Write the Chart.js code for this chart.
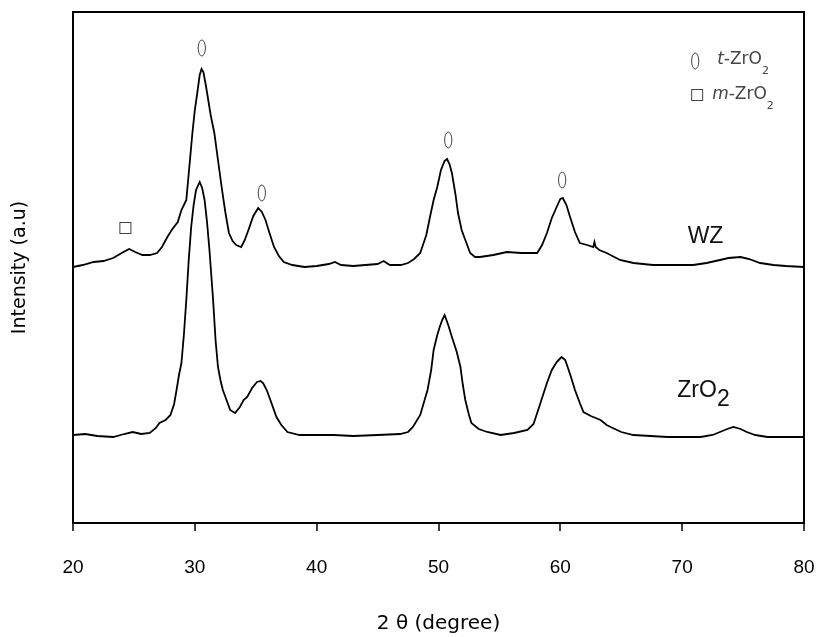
<!DOCTYPE html>
<html>
<head>
<meta charset="utf-8">
<script src="https://cdn.jsdelivr.net/npm/chart.js@4.4.1/dist/chart.umd.min.js"></script>
<style>
  html, body { margin: 0; padding: 0; background: #fff; }
  #wrap { width: 817px; height: 637px; position: relative; }
</style>
</head>
<body>
<div id="wrap"><canvas id="xrd"></canvas></div>
<script>
// -------------------- data (2 theta vs intensity, a.u.)
var xTicks = [20, 30, 40, 50, 60, 70, 80];

var wzX = [20.0,20.8,21.7,22.5,23.3,24.0,24.6,25.1,25.7,26.3,26.9,27.3,27.7,28.1,28.6,28.9,29.3,29.6,29.8,30.0,
  30.2,30.4,30.55,30.7,30.9,31.1,31.3,31.6,31.9,32.2,32.5,32.8,33.1,33.4,33.8,34.1,34.4,34.8,35.2,35.5,
  35.8,36.1,36.5,36.9,37.3,38.0,39.0,40.0,41.0,41.5,42.0,43.0,44.0,45.0,45.5,46.0,46.9,47.5,48.0,48.5,
  49.0,49.3,49.6,49.9,50.2,50.5,50.7,50.9,51.1,51.4,51.6,51.9,52.2,52.6,53.0,53.4,54.5,55.6,56.8,58.1,
  58.5,58.9,59.3,59.7,60.0,60.2,60.5,60.8,61.2,61.6,62.2,62.7,62.8,62.9,63.2,63.8,64.9,66.0,67.6,69.0,
  70.9,72.0,73.1,73.8,74.8,75.5,76.4,77.5,78.5,80.0];
var wzY = [256,258,261,262,265,270,274,271,268,268,270,276,285,293,301,313,323,363,390,413,
  430,448,454,451,438,423,408,390,363,336,311,290,282,278,276,283,293,307,315,311,
  303,291,276,267,261,258,256,257,259,261,258,257,258,259,262,258,258,260,264,270,
  288,306,323,336,353,362,364,359,350,328,310,293,283,270,266,266,268,271,270,270,
  278,290,305,316,324,325,318,306,291,280,278,276,281,276,273,270,263,260,258,258,
  258,260,263,265,266,264,260,258,257,256];

var zrX = [20.0,21.0,22.0,23.3,24.2,24.9,25.6,26.3,26.8,27.1,27.6,28.0,28.3,28.5,28.7,28.9,29.1,29.3,29.5,29.7,
  29.9,30.1,30.4,30.6,30.8,31.0,31.2,31.5,31.7,31.9,32.1,32.3,32.6,32.9,33.3,33.7,34.0,34.3,34.7,35.1,
  35.4,35.6,35.9,36.2,36.7,37.1,37.6,38.6,40.0,41.4,43.0,45.0,46.85,47.5,47.9,48.5,49.1,49.4,49.6,49.9,
  50.1,50.3,50.5,50.8,51.1,51.5,51.8,52.0,52.2,52.5,52.7,53.3,54.0,55.1,56.2,57.3,57.8,58.1,58.5,58.9,
  59.3,59.7,60.1,60.4,60.6,60.9,61.2,61.6,61.9,62.5,63.3,63.8,64.3,65.0,66.0,68.8,71.5,72.5,73.1,73.7,
  74.2,74.8,75.3,76.0,77.0,78.5,80.0];
var zrY = [88,89,87,86,89,91,89,90,95,100,103,108,119,133,148,160,188,223,263,296,
  318,333,341,335,323,301,273,223,183,156,143,133,123,113,110,116,123,126,135,141,
  142,140,133,123,106,98,91,88,88,88,87,88,89,91,96,108,133,153,173,188,
  196,203,208,198,186,171,156,138,123,108,100,94,91,88,90,93,99,110,125,140,
  153,161,166,163,156,145,133,120,111,107,103,98,95,91,88,86,86,88,91,94,
  96,94,91,88,86,86,86];

// peak markers (data units)
var tPeaks = [[30.57, 475], [35.5, 330], [50.8, 383], [60.15, 343]];
var mPeaks = [[24.3, 295]];
// key entries: symbol x, symbol y, text x, text y, italic prefix
var keyRows = [['oval', 71.07, 462, 72.87, 463, 't'], ['square', 71.23, 428, 72.46, 428, 'm']];
var sampleLabels = [['WZ', '', 70.45, 286], ['ZrO', '2', 69.6, 132]];

function pts(xs, ys){
  var out = [];
  for(var i = 0;i<xs.length;i++){ out.push({x: xs[i], y: ys[i]}); }
  return out;
}

function drawOval(ctx, x, y){
  ctx.beginPath();
  ctx.ellipse(x, y, 3.6, 8, 0, 0, Math.PI*2);
  ctx.stroke();
}
function drawSquare(ctx, x, y){
  ctx.strokeRect(x-5.5, y-5.5, 11, 11);
}

// text with a subscript, optional italic prefix
function subText(ctx, x, y, pre, main, sub, fam, size, subSize, subDrop){
  ctx.textAlign = 'left';
  ctx.textBaseline = 'middle';
  var cx = x;
  if(pre){
    ctx.font = 'italic ' + size + 'px ' + fam;
    ctx.fillText(pre, cx, y);
    cx += ctx.measureText(pre).width;
  }
  ctx.font = size + 'px ' + fam;
  ctx.fillText(main, cx, y);
  cx += ctx.measureText(main).width;
  if(sub){
    ctx.font = subSize + 'px ' + fam;
    ctx.fillText(sub, cx, y + subDrop);
  }
}

var frame = {
  id: 'frame',
  afterDraw: function(chart){
    var ctx = chart.ctx, a = chart.chartArea;
    var xs = chart.scales.x, ys = chart.scales.y;
    ctx.save();
    ctx.strokeStyle = '#000';
    ctx.lineWidth = 2;
    ctx.strokeRect(a.left, a.top, a.right - a.left, a.bottom - a.top);
    // tick marks below the axis
    ctx.lineWidth = 1.5;
    ctx.beginPath();
    for(var t = 0;t<xTicks.length;t++){
      var px = Math.round(xs.getPixelForValue(xTicks[t]));
      ctx.moveTo(px, a.bottom);
      ctx.lineTo(px, a.bottom + 8);
    }
    ctx.stroke();

    ctx.strokeStyle = '#444';
    ctx.lineWidth = 1;
    for(var i = 0;i<tPeaks.length;i++){
      drawOval(ctx, xs.getPixelForValue(tPeaks[i][0]), ys.getPixelForValue(tPeaks[i][1]));
    }
    for(var j = 0;j<mPeaks.length;j++){
      drawSquare(ctx, xs.getPixelForValue(mPeaks[j][0]), ys.getPixelForValue(mPeaks[j][1]));
    }

    // key, top right
    ctx.fillStyle = '#444';
    for(var r = 0;r<keyRows.length;r++){
      var kr = keyRows[r];
      var sx = xs.getPixelForValue(kr[1]), sy = ys.getPixelForValue(kr[2]);
      if(kr[0]=='oval'){ drawOval(ctx, sx, sy); } else { drawSquare(ctx, sx, sy); }
      subText(ctx, xs.getPixelForValue(kr[3]), ys.getPixelForValue(kr[4]), kr[5], '-ZrO', '2', '"DejaVu Sans"', 17, 11, 11);
    }

    ctx.fillStyle = '#111';
    for(var k = 0;k<sampleLabels.length;k++){
      var s = sampleLabels[k];
      subText(ctx, xs.getPixelForValue(s[2]), ys.getPixelForValue(s[3]), '', s[0], s[1], '"Liberation Sans"', 23, 23, 9);
    }
    ctx.restore();
  }
};

var ctx = document.getElementById('xrd').getContext('2d');
window.xrd = new Chart(ctx, {
  type: 'line',
  data: {
    datasets: [
      { label: 'WZ', data: pts(wzX, wzY), borderColor: '#000', borderWidth: 1.8, pointRadius: 0, tension: 0, fill: false },
      { label: 'ZrO2', data: pts(zrX, zrY), borderColor: '#000', borderWidth: 1.8, pointRadius: 0, tension: 0, fill: false }
    ]
  },
  options: {
    responsive: true,
    maintainAspectRatio: false,
    animation: false,
    events: [],
    layout: { padding: { top: 12, right: 13, left: 0, bottom: 0 } },
    plugins: { legend: { display: false }, tooltip: { enabled: false } },
    scales: {
      x: {
        type: 'linear', min: 20, max: 80,
        afterBuildTicks: function(s){ s.ticks = xTicks.map(function(v){ return {value: v}; }); },
        afterFit: function(s){ s.height = 114; s.paddingLeft = 0; s.paddingRight = 0; },
        border: { display: false },
        grid: { display: false },
        ticks: { color: '#000', font: { family: '"Liberation Sans"', size: 19 }, padding: 25, maxRotation: 0 },
        title: { display: true, text: '2 \u03b8 (degree)', color: '#000', font: { family: '"DejaVu Sans"', size: 20 }, padding: { top: 4, bottom: 1 } }
      },
      y: {
        min: 0, max: 511,
        afterFit: function(s){ s.width = 73; },
        border: { display: false },
        grid: { display: false },
        ticks: { display: false },
        title: { display: true, text: 'Intensity (a.u)', color: '#000', font: { family: '"DejaVu Sans"', size: 19 }, padding: { top: 9, bottom: 0 } }
      }
    }
  },
  plugins: [frame]
});
</script>
</body>
</html>
